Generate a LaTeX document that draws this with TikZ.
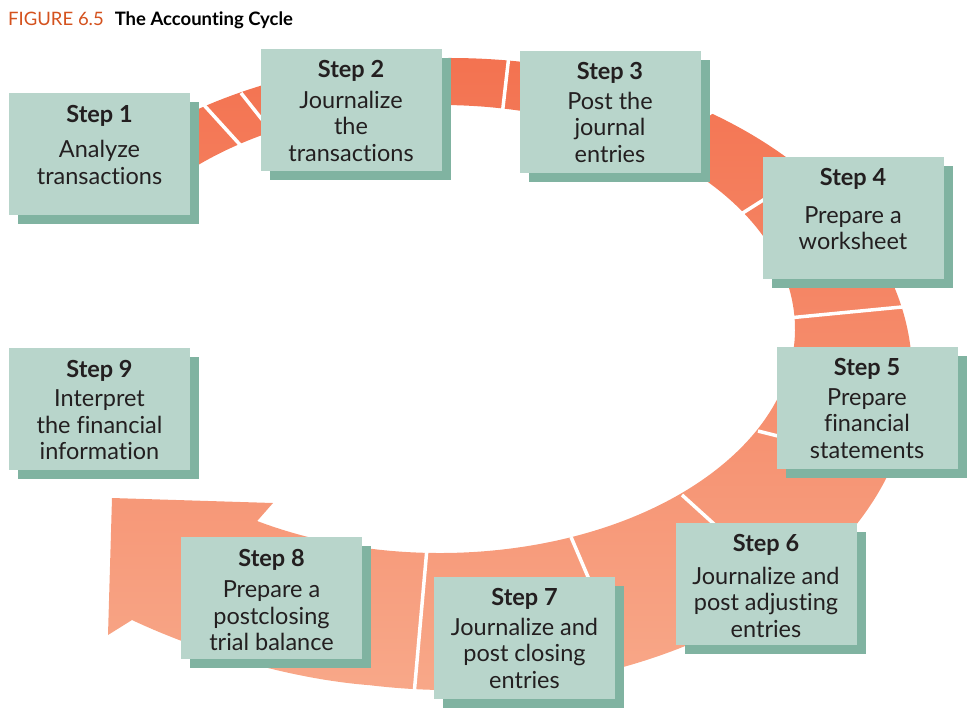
\documentclass[tikz,border=0pt]{standalone}
\usepackage{fontspec}
\setmainfont{Lato}[Ligatures={NoCommon}]
\usetikzlibrary{calc,shadows}

\definecolor{bandtop}{HTML}{F3714F}
\definecolor{bandbottom}{HTML}{F8AA8B}
\definecolor{cardfill}{HTML}{B8D5CB}
\definecolor{cardshade}{HTML}{80B3A1}
\definecolor{inkgray}{HTML}{231F20}
\definecolor{figorange}{HTML}{D4521E}

\tikzset{
	stepcard/.style={rectangle, fill=cardfill, minimum width=181pt, minimum height=122pt, inner sep=0pt,
		drop shadow={shadow xshift=9pt, shadow yshift=-9pt, fill=cardshade, opacity=1}},
	steptext/.style={anchor=north, align=center, inner sep=0pt, text=inkgray, font=\fontsize{23.5}{26.5}\selectfont},
	bandcut/.style={white, line width=3.5pt},
}

\begin{document}
\begin{tikzpicture}[x=1pt, y=-1pt]
	\useasboundingbox (0,0) rectangle (973,718);

	\node[anchor=base west, inner sep=0pt, text=black, font=\fontsize{18.5}{22}\selectfont] (title) at (8,25)
		{\textcolor{figorange}{FIGURE 6.5}\hspace{11pt}\textbf{The Accounting Cycle}};

	\shade[top color=bandtop, bottom color=bandbottom]
		($(440,329)+(-140:355 and 224)$) arc[start angle=-140, end angle=121, x radius=355, y radius=224]
		-- (273,503) -- (112,498) -- (108,635) -- (132,620)
		.. controls (200,652) and (290,679) .. ($(450,374)+(100:462 and 316)$)
		arc[start angle=100, end angle=-140, x radius=462, y radius=316] -- cycle;

	\draw[bandcut]	(203,104) -- (243,148)
					(241,93) -- (283,146)
					(509,55) -- (502,116)
					(720,106) -- (655,153)
					(738,216) -- (790,183)
					(788,318) -- (912,306)
					(758,431) -- (885,463)
					(682,495) -- (735,543)
					(571,537) -- (597,598)
					(427,548) -- (414,695);

	\node[stepcard] (card1) at (99.5,154) {};
	\node[steptext] (text1) at ([yshift=-12pt]card1.north) {\textbf{Step 1}\\[9pt]Analyze\\transactions};

	\node[stepcard] (card2) at (351,109.5) {};
	\node[steptext] (text2) at ([yshift=-12pt]card2.north) {\textbf{Step 2}\\[4pt]Journalize\\the\\transactions};

	\node[stepcard] (card3) at (610,111.5) {};
	\node[steptext] (text3) at ([yshift=-12pt]card3.north) {\textbf{Step 3}\\[3pt]Post the\\journal\\entries};

	\node[stepcard] (card4) at (853,217.5) {};
	\node[steptext] (text4) at ([yshift=-12pt]card4.north) {\textbf{Step 4}\\[11pt]Prepare a\\worksheet};

	\node[stepcard] (card5) at (867,407.5) {};
	\node[steptext] (text5) at ([yshift=-12pt]card5.north) {\textbf{Step 5}\\[3pt]Prepare\\financial\\statements};

	\node[stepcard] (card6) at (766,583.5) {};
	\node[steptext] (text6) at ([yshift=-12pt]card6.north) {\textbf{Step 6}\\[6pt]Journalize and\\post adjusting\\entries};

	\node[stepcard] (card7) at (524.5,637.5) {};
	\node[steptext] (text7) at ([yshift=-12pt]card7.north) {\textbf{Step 7}\\[3pt]Journalize and\\post closing\\entries};

	\node[stepcard] (card8) at (271.5,598) {};
	\node[steptext] (text8) at ([yshift=-12pt]card8.north) {\textbf{Step 8}\\[5pt]Prepare a\\postclosing\\trial balance};

	\node[stepcard] (card9) at (99.5,409) {};
	\node[steptext] (text9) at ([yshift=-12pt]card9.north) {\textbf{Step 9}\\[3pt]Interpret\\the financial\\information};
\end{tikzpicture}
\end{document}
